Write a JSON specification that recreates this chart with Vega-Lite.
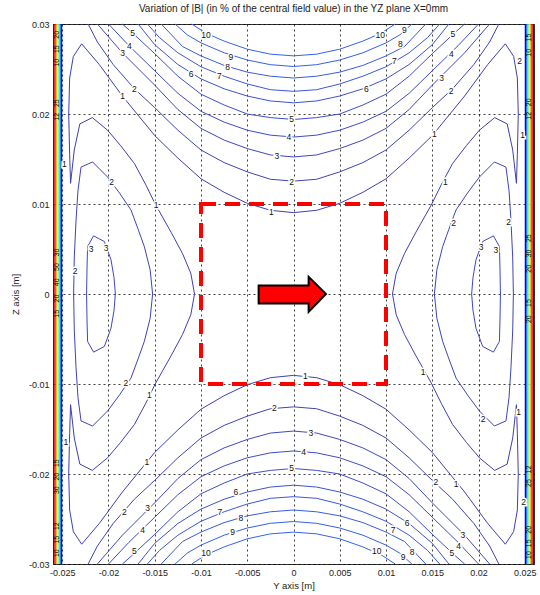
{
  "$schema": "https://vega.github.io/schema/vega-lite/v6.json",
  "width": 481,
  "height": 540,
  "autosize": {"type": "none"},
  "padding": {"left": 53, "top": 24, "right": 6, "bottom": 31},
  "background": "white",
  "title": {"text": "Variation of |B| (in % of the central field value) in the YZ plane X=0mm", "fontSize": 10, "fontWeight": "normal", "font": "Liberation Sans", "color": "#222222", "offset": 6},
  "config": {"view": {"stroke": "#333333", "strokeWidth": 1}, "font": "Liberation Sans"},
  "datasets": {
    "strip": [
      {"b": "1", "Y": -0.026, "Y2": -0.02586, "Z": -0.03, "Z2": 0.03},
      {"b": "2", "Y": -0.02586, "Y2": -0.0257, "Z": -0.03, "Z2": 0.03},
      {"b": "3", "Y": -0.0257, "Y2": -0.02559, "Z": -0.03, "Z2": 0.03},
      {"b": "4", "Y": -0.02559, "Y2": -0.02548, "Z": -0.03, "Z2": 0.03},
      {"b": "5", "Y": -0.02548, "Y2": -0.02537, "Z": -0.03, "Z2": 0.03},
      {"b": "6", "Y": -0.02537, "Y2": -0.02526, "Z": -0.03, "Z2": 0.03},
      {"b": "7", "Y": -0.02526, "Y2": -0.02516, "Z": -0.03, "Z2": 0.03},
      {"b": "8", "Y": -0.02516, "Y2": -0.025, "Z": -0.03, "Z2": 0.03},
      {"b": "1", "Y": 0.02586, "Y2": 0.026, "Z": -0.03, "Z2": 0.03},
      {"b": "2", "Y": 0.0257, "Y2": 0.02586, "Z": -0.03, "Z2": 0.03},
      {"b": "3", "Y": 0.02559, "Y2": 0.0257, "Z": -0.03, "Z2": 0.03},
      {"b": "4", "Y": 0.02548, "Y2": 0.02559, "Z": -0.03, "Z2": 0.03},
      {"b": "5", "Y": 0.02537, "Y2": 0.02548, "Z": -0.03, "Z2": 0.03},
      {"b": "6", "Y": 0.02526, "Y2": 0.02537, "Z": -0.03, "Z2": 0.03},
      {"b": "7", "Y": 0.02516, "Y2": 0.02526, "Z": -0.03, "Z2": 0.03},
      {"b": "8", "Y": 0.025, "Y2": 0.02516, "Z": -0.03, "Z2": 0.03}
    ],
    "cont": [
      {"id": "t10", "lv": 10, "Y": [-0.011,-0.0095,-0.0075,-0.005,-0.0025,0,0.0025,0.005,0.0075,0.0095,0.011], "Z": [0.03,0.029,0.0281,0.0272,0.02665,0.02646,0.02665,0.0272,0.0281,0.029,0.03]},
      {"id": "b10", "lv": 10, "Y": [-0.011,-0.0095,-0.0075,-0.005,-0.0025,0,0.0025,0.005,0.0075,0.0095,0.011], "Z": [-0.03,-0.029,-0.0281,-0.0272,-0.02665,-0.02646,-0.02665,-0.0272,-0.0281,-0.029,-0.03]},
      {"id": "t9", "lv": 9, "Y": [-0.0128,-0.0115,-0.01,-0.0075,-0.005,-0.0025,0,0.0025,0.005,0.0075,0.01,0.0115,0.0128], "Z": [0.03,0.0288,0.0279,0.0268,0.026,0.02548,0.02528,0.02548,0.026,0.0268,0.0279,0.0288,0.03]},
      {"id": "b9", "lv": 9, "Y": [-0.0128,-0.0115,-0.01,-0.0075,-0.005,-0.0025,0,0.0025,0.005,0.0075,0.01,0.0115,0.0128], "Z": [-0.03,-0.0288,-0.0279,-0.0268,-0.026,-0.02548,-0.02528,-0.02548,-0.026,-0.0268,-0.0279,-0.0288,-0.03]},
      {"id": "t8", "lv": 8, "Y": [-0.0143,-0.012,-0.01,-0.0075,-0.005,-0.0025,0,0.0025,0.005,0.0075,0.01,0.012,0.0143], "Z": [0.03,0.0275,0.02645,0.0254,0.02465,0.0242,0.024,0.0242,0.02465,0.0254,0.02645,0.0275,0.03]},
      {"id": "b8", "lv": 8, "Y": [-0.0143,-0.012,-0.01,-0.0075,-0.005,-0.0025,0,0.0025,0.005,0.0075,0.01,0.012,0.0143], "Z": [-0.03,-0.0275,-0.02645,-0.0254,-0.02465,-0.0242,-0.024,-0.0242,-0.02465,-0.0254,-0.02645,-0.0275,-0.03]},
      {"id": "t7", "lv": 7, "Y": [-0.0158,-0.0145,-0.0125,-0.01,-0.0075,-0.005,-0.0025,0,0.0025,0.005,0.0075,0.01,0.0125,0.0145,0.0158], "Z": [0.03,0.0285,0.0268,0.02525,0.0242,0.02334,0.0227,0.02252,0.0227,0.02334,0.0242,0.02525,0.0268,0.0285,0.03]},
      {"id": "b7", "lv": 7, "Y": [-0.0158,-0.0145,-0.0125,-0.01,-0.0075,-0.005,-0.0025,0,0.0025,0.005,0.0075,0.01,0.0125,0.0145,0.0158], "Z": [-0.03,-0.0285,-0.0268,-0.02525,-0.0242,-0.02334,-0.0227,-0.02252,-0.0227,-0.02334,-0.0242,-0.02525,-0.0268,-0.0285,-0.03]},
      {"id": "t6", "lv": 6, "Y": [-0.0168,-0.015,-0.0125,-0.01,-0.0075,-0.005,-0.0025,0,0.0025,0.005,0.0075,0.01,0.0125,0.015,0.0168], "Z": [0.03,0.0277,0.0255,0.0239,0.0228,0.022,0.02145,0.02124,0.02145,0.022,0.0228,0.0239,0.0255,0.0277,0.03]},
      {"id": "b6", "lv": 6, "Y": [-0.0168,-0.015,-0.0125,-0.01,-0.0075,-0.005,-0.0025,0,0.0025,0.005,0.0075,0.01,0.0125,0.015,0.0168], "Z": [-0.03,-0.0277,-0.0255,-0.0239,-0.0228,-0.022,-0.02145,-0.02124,-0.02145,-0.022,-0.0228,-0.0239,-0.0255,-0.0277,-0.03]},
      {"id": "t5", "lv": 5, "Y": [-0.0185,-0.0174,-0.015,-0.0125,-0.01,-0.0075,-0.005,-0.0025,0,0.0025,0.005,0.0075,0.01,0.0125,0.015,0.0174,0.0185], "Z": [0.03,0.029,0.0267,0.0242,0.0222,0.021,0.02,0.0196,0.01939,0.0196,0.02,0.021,0.0222,0.0242,0.0267,0.029,0.03]},
      {"id": "b5", "lv": 5, "Y": [-0.0185,-0.0174,-0.015,-0.0125,-0.01,-0.0075,-0.005,-0.0025,0,0.0025,0.005,0.0075,0.01,0.0125,0.015,0.0174,0.0185], "Z": [-0.03,-0.029,-0.0267,-0.0242,-0.0222,-0.021,-0.02,-0.0196,-0.01939,-0.0196,-0.02,-0.021,-0.0222,-0.0242,-0.0267,-0.029,-0.03]},
      {"id": "t4", "lv": 4, "Y": [-0.02,-0.0178,-0.015,-0.0125,-0.01,-0.0075,-0.005,-0.0025,0,0.0025,0.005,0.0075,0.01,0.0125,0.015,0.0178,0.02], "Z": [0.03,0.0276,0.0248,0.0223,0.0203,0.0191,0.0182,0.01765,0.01744,0.01765,0.0182,0.0191,0.0203,0.0223,0.0248,0.0276,0.03]},
      {"id": "b4", "lv": 4, "Y": [-0.02,-0.0178,-0.015,-0.0125,-0.01,-0.0075,-0.005,-0.0025,0,0.0025,0.005,0.0075,0.01,0.0125,0.015,0.0178,0.02], "Z": [-0.03,-0.0276,-0.0248,-0.0223,-0.0203,-0.0191,-0.0182,-0.01765,-0.01744,-0.01765,-0.0182,-0.0191,-0.0203,-0.0223,-0.0248,-0.0276,-0.03]},
      {"id": "t3", "lv": 3, "Y": [-0.0212,-0.0185,-0.015,-0.0125,-0.01,-0.0075,-0.005,-0.0025,0,0.0025,0.005,0.0075,0.01,0.0125,0.015,0.0185,0.0212], "Z": [0.03,0.0268,0.0232,0.0205,0.0184,0.0171,0.01616,0.01545,0.01523,0.01545,0.01616,0.0171,0.0184,0.0205,0.0232,0.0268,0.03]},
      {"id": "b3", "lv": 3, "Y": [-0.0212,-0.0185,-0.015,-0.0125,-0.01,-0.0075,-0.005,-0.0025,0,0.0025,0.005,0.0075,0.01,0.0125,0.015,0.0185,0.0212], "Z": [-0.03,-0.0268,-0.0232,-0.0205,-0.0184,-0.0171,-0.01616,-0.01545,-0.01523,-0.01545,-0.01616,-0.0171,-0.0184,-0.0205,-0.0232,-0.0268,-0.03]},
      {"id": "t2", "lv": 2, "Y": [-0.0222,-0.0212,-0.0195,-0.0172,-0.015,-0.0125,-0.01,-0.0075,-0.005,-0.0025,0,0.0025,0.005,0.0075,0.01,0.0125,0.015,0.0172,0.0195,0.0212,0.0222], "Z": [0.03,0.028,0.0255,0.0228,0.0207,0.0182,0.016,0.0146,0.01357,0.01275,0.01254,0.01275,0.01357,0.0146,0.016,0.0182,0.0207,0.0228,0.0255,0.028,0.03]},
      {"id": "b2", "lv": 2, "Y": [-0.0222,-0.0212,-0.0195,-0.0172,-0.015,-0.0125,-0.01,-0.0075,-0.005,-0.0025,0,0.0025,0.005,0.0075,0.01,0.0125,0.015,0.0172,0.0195,0.0212,0.0222], "Z": [-0.03,-0.028,-0.0255,-0.0228,-0.0207,-0.0182,-0.016,-0.0146,-0.01357,-0.01275,-0.01254,-0.01275,-0.01357,-0.0146,-0.016,-0.0182,-0.0207,-0.0228,-0.0255,-0.028,-0.03]},
      {"id": "t1", "lv": 1, "Y": [-0.0107,-0.0111,-0.012,-0.0132,-0.0149,-0.016,-0.0172,-0.0187,-0.0201,-0.02175,-0.0231,-0.0237,-0.0241,-0.0242,-0.0243,-0.0242,-0.0238,-0.0229,-0.021,-0.0185,-0.015,-0.0125,-0.01,-0.0075,-0.005,-0.0025,0,0.0025,0.005,0.0075,0.01,0.0125,0.015,0.0185,0.021,0.0229,0.0238,0.0242,0.0243,0.0242,0.0241,0.0237,0.0231,0.02175,0.0201,0.0187,0.0172,0.016,0.0149,0.0132,0.012,0.0111,0.0107], "Z": [0,0.0023,0.0045,0.0068,0.0099,0.0122,0.0145,0.0165,0.0182,0.0196,0.0189,0.016,0.0123,0.0155,0.02,0.024,0.0264,0.0278,0.0255,0.022,0.0176,0.0151,0.0128,0.0113,0.01008,0.0093,0.00904,0.0093,0.01008,0.0113,0.0128,0.0151,0.0176,0.022,0.0255,0.0278,0.0264,0.024,0.02,0.0155,0.0123,0.016,0.0189,0.0196,0.0182,0.0165,0.0145,0.0122,0.0099,0.0068,0.0045,0.0023,0]},
      {"id": "b1", "lv": 1, "Y": [-0.0107,-0.0111,-0.012,-0.0132,-0.0149,-0.016,-0.0172,-0.0187,-0.0201,-0.02175,-0.0231,-0.0237,-0.0241,-0.0242,-0.0243,-0.0242,-0.0238,-0.0229,-0.021,-0.0185,-0.015,-0.0125,-0.01,-0.0075,-0.005,-0.0025,0,0.0025,0.005,0.0075,0.01,0.0125,0.015,0.0185,0.021,0.0229,0.0238,0.0242,0.0243,0.0242,0.0241,0.0237,0.0231,0.02175,0.0201,0.0187,0.0172,0.016,0.0149,0.0132,0.012,0.0111,0.0107], "Z": [0,-0.0023,-0.0045,-0.0068,-0.0099,-0.0122,-0.0145,-0.0165,-0.0182,-0.0196,-0.0189,-0.016,-0.0123,-0.0155,-0.02,-0.024,-0.0264,-0.0278,-0.0255,-0.022,-0.0176,-0.0151,-0.0128,-0.0113,-0.01008,-0.0093,-0.00904,-0.0093,-0.01008,-0.0113,-0.0128,-0.0151,-0.0176,-0.022,-0.0255,-0.0278,-0.0264,-0.024,-0.02,-0.0155,-0.0123,-0.016,-0.0189,-0.0196,-0.0182,-0.0165,-0.0145,-0.0122,-0.0099,-0.0068,-0.0045,-0.0023,0]},
      {"id": "l2L", "lv": 2, "Y": [-0.01523,-0.0155,-0.01613,-0.0168,-0.01757,-0.0188,-0.0201,-0.02172,-0.02297,-0.0233,-0.02351,-0.0237,-0.02377,-0.0237,-0.02351,-0.0233,-0.02297,-0.02172,-0.0201,-0.0188,-0.01757,-0.0168,-0.01613,-0.0155,-0.01523], "Z": [0,0.0027,0.00528,0.0072,0.00934,0.0112,0.013,0.01467,0.0141,0.0115,0.0082,0.004,0,-0.004,-0.0082,-0.0115,-0.0141,-0.01467,-0.013,-0.0112,-0.00934,-0.0072,-0.00528,-0.0027,0]},
      {"id": "l2R", "lv": 2, "Y": [0.01523,0.0155,0.01613,0.0168,0.01757,0.0188,0.0201,0.02172,0.02297,0.0233,0.02351,0.0237,0.02377,0.0237,0.02351,0.0233,0.02297,0.02172,0.0201,0.0188,0.01757,0.0168,0.01613,0.0155,0.01523], "Z": [0,0.0027,0.00528,0.0072,0.00934,0.0112,0.013,0.01467,0.0141,0.0115,0.0082,0.004,0,-0.004,-0.0082,-0.0115,-0.0141,-0.01467,-0.013,-0.0112,-0.00934,-0.0072,-0.00528,-0.0027,0]},
      {"id": "l3L", "lv": 3, "Y": [-0.01926,-0.0194,-0.01973,-0.02045,-0.02161,-0.02226,-0.02232,-0.02237,-0.02232,-0.02226,-0.02161,-0.02045,-0.01973,-0.0194,-0.01926], "Z": [0,0.0018,0.00381,0.00583,0.00646,0.00528,0.003,0,-0.003,-0.00528,-0.00646,-0.00583,-0.00381,-0.0018,0]},
      {"id": "l3R", "lv": 3, "Y": [0.01926,0.0194,0.01973,0.02045,0.02161,0.02226,0.02232,0.02237,0.02232,0.02226,0.02161,0.02045,0.01973,0.0194,0.01926], "Z": [0,0.0018,0.00381,0.00583,0.00646,0.00528,0.003,0,-0.003,-0.00528,-0.00646,-0.00583,-0.00381,-0.0018,0]}
    ],
    "lab": [
      {"t": "10", "Y": -0.00946, "Z": 0.02878}, {"t": "9", "Y": -0.00676, "Z": 0.02635}, {"t": "8", "Y": -0.00712, "Z": 0.02517},
      {"t": "7", "Y": -0.00802, "Z": 0.02425}, {"t": "6", "Y": -0.01108, "Z": 0.02444}, {"t": "5", "Y": -0.0174, "Z": 0.02904},
      {"t": "4", "Y": -0.01775, "Z": 0.02757}, {"t": "3", "Y": -0.01848, "Z": 0.02683}, {"t": "2", "Y": -0.01721, "Z": 0.02278},
      {"t": "1", "Y": -0.01848, "Z": 0.02204}, {"t": "5", "Y": -0.0002, "Z": 0.01939}, {"t": "4", "Y": -0.0005, "Z": 0.01744},
      {"t": "3", "Y": -0.0018, "Z": 0.0153}, {"t": "2", "Y": -0.0002, "Z": 0.01246}, {"t": "1", "Y": -0.0024, "Z": 0.00915},
      {"t": "1", "Y": -0.01486, "Z": 0.00989}, {"t": "2", "Y": -0.01966, "Z": 0.01246}, {"t": "3", "Y": -0.02189, "Z": 0.005},
      {"t": "3", "Y": -0.02027, "Z": 0.0051}, {"t": "2", "Y": -0.02362, "Z": 0.00252}, {"t": "1", "Y": -0.02478, "Z": 0.0145},
      {"t": "10", "Y": 0.00938, "Z": 0.02878}, {"t": "9", "Y": 0.01198, "Z": 0.0293}, {"t": "8", "Y": 0.01155, "Z": 0.02775},
      {"t": "7", "Y": 0.0109, "Z": 0.02591}, {"t": "6", "Y": 0.00787, "Z": 0.02278}, {"t": "5", "Y": 0.01724, "Z": 0.02886},
      {"t": "4", "Y": 0.01706, "Z": 0.02665}, {"t": "3", "Y": 0.016, "Z": 0.024}, {"t": "2", "Y": 0.01703, "Z": 0.0226},
      {"t": "1", "Y": 0.01522, "Z": 0.01781}, {"t": "1", "Y": 0.01641, "Z": 0.01246}, {"t": "2", "Y": 0.01731, "Z": 0.00787},
      {"t": "2", "Y": 0.02325, "Z": 0.00804}, {"t": "3", "Y": 0.02027, "Z": 0.00521}, {"t": "3", "Y": 0.02189, "Z": 0.00484},
      {"t": "1", "Y": 0.02477, "Z": 0.01762}, {"t": "2", "Y": 0.02444, "Z": 0.02591},
      {"t": "2", "Y": -0.01811, "Z": -0.00992}, {"t": "1", "Y": -0.01559, "Z": -0.01122}, {"t": "1", "Y": -0.01584, "Z": -0.01865},
      {"t": "2", "Y": -0.01829, "Z": -0.0242}, {"t": "3", "Y": -0.01577, "Z": -0.0238}, {"t": "4", "Y": -0.01631, "Z": -0.02621},
      {"t": "5", "Y": -0.01721, "Z": -0.0286}, {"t": "10", "Y": -0.00946, "Z": -0.02878}, {"t": "9", "Y": -0.00658, "Z": -0.02639},
      {"t": "8", "Y": -0.00568, "Z": -0.02484}, {"t": "7", "Y": -0.00795, "Z": -0.02425}, {"t": "6", "Y": -0.00622, "Z": -0.02204},
      {"t": "2", "Y": -0.00208, "Z": -0.01269}, {"t": "5", "Y": -0.0002, "Z": -0.01935}, {"t": "1", "Y": -0.0246, "Z": -0.01644},
      {"t": "1", "Y": 0.00128, "Z": -0.00915}, {"t": "3", "Y": 0.00189, "Z": -0.01545}, {"t": "4", "Y": 0.00109, "Z": -0.01755},
      {"t": "1", "Y": 0.014, "Z": -0.00864}, {"t": "2", "Y": 0.02049, "Z": -0.01394}, {"t": "1", "Y": 0.02434, "Z": -0.01313},
      {"t": "2", "Y": 0.0154, "Z": -0.02094}, {"t": "1", "Y": 0.01757, "Z": -0.02116}, {"t": "3", "Y": 0.01832, "Z": -0.02683},
      {"t": "4", "Y": 0.01785, "Z": -0.02804}, {"t": "5", "Y": 0.01713, "Z": -0.02878}, {"t": "6", "Y": 0.01227, "Z": -0.02547},
      {"t": "7", "Y": 0.01076, "Z": -0.0262}, {"t": "8", "Y": 0.01281, "Z": -0.02871}, {"t": "9", "Y": 0.01184, "Z": -0.02926},
      {"t": "10", "Y": 0.009, "Z": -0.0285}, {"t": "2", "Y": 0.02488, "Z": -0.02307}
    ],
    "sl": [
      {"t": "20", "Y": -0.02552, "Z": 0.0288}, {"t": "15", "Y": -0.02552, "Z": 0.0272}, {"t": "10", "Y": -0.02552, "Z": 0.0257},
      {"t": "25", "Y": -0.02552, "Z": 0.0212}, {"t": "12", "Y": -0.02552, "Z": 0.0197}, {"t": "30", "Y": -0.02552, "Z": 0.0046},
      {"t": "50", "Y": -0.02552, "Z": 0.003}, {"t": "40", "Y": -0.02552, "Z": 0.0013}, {"t": "20", "Y": -0.02552, "Z": -0.0005},
      {"t": "15", "Y": -0.02552, "Z": -0.0022}, {"t": "15", "Y": -0.02552, "Z": -0.0188}, {"t": "20", "Y": -0.02552, "Z": -0.0203},
      {"t": "30", "Y": -0.02552, "Z": -0.0218}, {"t": "12", "Y": -0.02552, "Z": -0.0258}, {"t": "15", "Y": -0.02552, "Z": -0.0273},
      {"t": "10", "Y": -0.02552, "Z": -0.0288},
      {"t": "15", "Y": 0.0255, "Z": 0.0285}, {"t": "10", "Y": 0.0255, "Z": 0.0268}, {"t": "20", "Y": 0.0255, "Z": 0.0213},
      {"t": "12", "Y": 0.0255, "Z": 0.0198}, {"t": "25", "Y": 0.0255, "Z": 0.0062}, {"t": "30", "Y": 0.0255, "Z": 0.0045},
      {"t": "20", "Y": 0.0255, "Z": 0.0028}, {"t": "15", "Y": 0.0255, "Z": -0.001}, {"t": "20", "Y": 0.0255, "Z": -0.0028},
      {"t": "12", "Y": 0.0255, "Z": -0.0195}, {"t": "25", "Y": 0.0255, "Z": -0.021}, {"t": "20", "Y": 0.0255, "Z": -0.0262},
      {"t": "15", "Y": 0.0255, "Z": -0.0277}, {"t": "10", "Y": 0.0255, "Z": -0.029}
    ],
    "box": [{"Y": -0.01, "Y2": 0.01, "Z": -0.01, "Z2": 0.01}],
    "arrow": [
      {"Y": -0.00377, "Z": 0.00094, "Z2": -0.00105},
      {"Y": 0.00163, "Z": 0.00094, "Z2": -0.00105},
      {"Y": 0.00164, "Z": 0.0019, "Z2": -0.00197},
      {"Y": 0.00351, "Z": 0, "Z2": 0}
    ]
  },
  "encoding": {
    "x": {
      "field": "Y", "type": "quantitative",
      "scale": {"domain": [-0.026, 0.026], "nice": false, "zero": false},
      "axis": {"values": [-0.025,-0.02,-0.015,-0.01,-0.005,0,0.005,0.01,0.015,0.02,0.025], "labelExpr": "'' + datum.value", "grid": true, "gridDash": [2,3], "gridColor": "#000000", "gridOpacity": 0.75, "ticks": false, "domain": false, "labelFontSize": 9, "labelColor": "#222222", "labelPadding": 4, "labelFlush": false, "labelOverlap": false, "title": "Y axis [m]", "titleFontSize": 9.5, "titleFontWeight": "normal", "titleColor": "#222222", "titlePadding": 3}
    },
    "y": {
      "field": "Z", "type": "quantitative",
      "scale": {"domain": [-0.03, 0.03], "nice": false, "zero": false},
      "axis": {"values": [-0.03,-0.02,-0.01,0,0.01,0.02,0.03], "labelExpr": "'' + datum.value", "grid": true, "gridDash": [2,3], "gridColor": "#000000", "gridOpacity": 0.75, "ticks": false, "domain": false, "labelFontSize": 9, "labelColor": "#222222", "labelPadding": 4, "labelFlush": false, "labelOverlap": false, "title": "Z axis [m]", "titleFontSize": 9.5, "titleFontWeight": "normal", "titleColor": "#222222", "titlePadding": 8}
    }
  },
  "layer": [
    {
      "data": {"name": "strip"},
      "mark": {"type": "rect"},
      "encoding": {
        "x2": {"field": "Y2"},
        "y2": {"field": "Z2"},
        "fill": {"field": "b", "type": "nominal", "scale": {"domain": ["1","2","3","4","5","6","7","8"], "range": ["#7f0000","#ff0000","#ff9900","#ffff00","#80ff80","#00ffff","#0088ff","#0000ff"]}, "legend": null}
      }
    },
    {
      "data": {"name": "cont"},
      "transform": [
        {"flatten": ["Y", "Z"]},
        {"window": [{"op": "row_number", "as": "o"}], "groupby": ["id"]}
      ],
      "mark": {"type": "line", "strokeWidth": 1},
      "encoding": {
        "detail": {"field": "id", "type": "nominal"},
        "order": {"field": "o", "type": "quantitative"},
        "stroke": {"field": "lv", "type": "quantitative", "scale": {"domain": [1, 10], "range": ["#3f3fb0", "#3163f4"]}, "legend": null}
      }
    },
    {
      "data": {"name": "lab"},
      "mark": {"type": "text", "fontSize": 8.5, "color": "white", "stroke": "white", "strokeWidth": 3},
      "encoding": {"text": {"field": "t"}}
    },
    {
      "data": {"name": "lab"},
      "mark": {"type": "text", "fontSize": 8.5, "color": "#111111"},
      "encoding": {"text": {"field": "t"}}
    },
    {
      "data": {"name": "sl"},
      "mark": {"type": "text", "fontSize": 7, "color": "#000000", "angle": 270},
      "encoding": {"text": {"field": "t"}}
    },
    {
      "data": {"name": "box"},
      "mark": {"type": "rect", "filled": false, "stroke": "#ff0000", "strokeWidth": 4, "strokeDash": [15, 9]},
      "encoding": {"x2": {"field": "Y2"}, "y2": {"field": "Z2"}}
    },
    {
      "data": {"name": "arrow"},
      "mark": {"type": "area", "fill": "#ff0000", "stroke": "#000000", "strokeWidth": 2, "opacity": 1},
      "encoding": {"y2": {"field": "Z2"}}
    }
  ]
}
